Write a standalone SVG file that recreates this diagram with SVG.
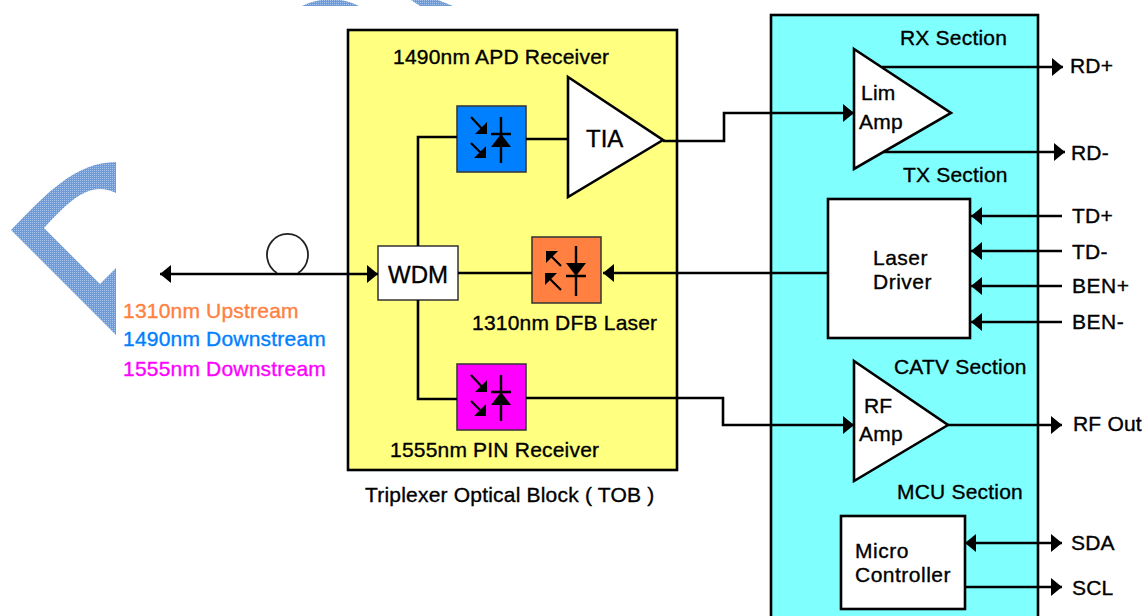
<svg xmlns="http://www.w3.org/2000/svg" width="1144" height="616" viewBox="0 0 1144 616">
<style>
text{font-family:"Liberation Sans",Arial,sans-serif;font-size:21px;letter-spacing:.2px;fill:#000;stroke:#000;stroke-width:.35}
.big{font-size:24px;letter-spacing:0}
.wide{letter-spacing:.5px}
.w{fill:none;stroke:#000;stroke-width:2.6}
.box{stroke:#000;stroke-width:2.6}
.ic{stroke:#333;stroke-width:1.5}
</style>
<defs>
<pattern id="wm" width="2" height="2" patternUnits="userSpaceOnUse"><rect width="2" height="2" fill="#6d9ad9"/><rect width="1" height="1" fill="#a9c4ea"/></pattern>
<marker id="a" markerUnits="userSpaceOnUse" markerWidth="12" markerHeight="18" refX="11" refY="9" orient="auto-start-reverse"><path d="M0 0L11 9L0 18Z" fill="#000"/></marker>
<g id="pd"><path d="M44 11V57M34 28H54" fill="none" stroke="#000" stroke-width="2.400"/><path d="M44 28L54 41H34Z" fill="#000"/><path d="M14 11L27 25M14 37L26 49" stroke="#000" stroke-width="2.200"/><path d="M30 28L30 16L18 28ZM29 52L29 40L17 52Z" fill="#000"/></g>
</defs>
<g id="watermark">
<path d="M11 230C45 195 75 162 116 162V193C90 180 70 200 44 228L100 284L116 268V335Z" fill="url(#wm)"/>
<path d="M302 6C320 -3 342 -3 359 6ZM411 0H438L453 6H420Z" fill="url(#wm)"/>
</g>
<g id="tob"><rect x="348" y="30" width="329" height="440" fill="#ffff80" class="box"/><text x="393" y="64">1490nm APD Receiver</text><text x="472" y="330">1310nm DFB Laser</text><text x="390" y="457">1555nm PIN Receiver</text><text x="365" y="502">Triplexer Optical Block ( TOB )</text></g>
<g id="transceiver"><rect x="771" y="15" width="267" height="610" fill="#80ffff" class="box"/><text x="900" y="45">RX Section</text><text x="903" y="182">TX Section</text><text x="894" y="374">CATV Section</text><text x="897" y="499">MCU Section</text></g>
<g id="wdm"><rect x="378" y="246" width="80" height="54" fill="#fff" stroke="#333" stroke-width="1.500"/><text x="418" y="283" text-anchor="middle" class="big">WDM</text></g>
<g id="apd"><rect x="457" y="106" width="69" height="66" fill="#0080ff" class="ic"/><use href="#pd" x="457" y="106"/></g>
<g id="pin"><rect x="457" y="364" width="69" height="66" fill="#ff00ff" class="ic"/><use href="#pd" x="457" y="364"/></g>
<g id="laser"><rect x="532" y="237" width="69" height="66" fill="#ff8040" class="ic"/>
<path d="M576 246V296M566 276H586" fill="none" stroke="#000" stroke-width="2.400"/><path d="M566 263H586L576 276Z" fill="#000"/><path d="M561 266L550 255M561 290L549 278" stroke="#000" stroke-width="2.200"/><path d="M546 251H558L546 263ZM545 273H557L545 285Z" fill="#000"/></g>
<g id="tia"><path d="M568 77L663 140L568 197Z" fill="#fff" class="box"/><text x="586" y="147" class="big">TIA</text></g>
<g id="lim-amp"><path d="M854 49L951 113L854 169Z" fill="#fff" class="box"/><text x="861" y="100">Lim</text><text x="859" y="129">Amp</text></g>
<g id="laser-driver"><rect x="828" y="199" width="142" height="139" fill="#fff" class="box"/><text x="873" y="265" class="wide">Laser</text><text x="873" y="289" class="wide">Driver</text></g>
<g id="rf-amp"><path d="M854 361L948 425L854 481Z" fill="#fff" class="box"/><text x="864" y="413">RF</text><text x="859" y="441">Amp</text></g>
<g id="mcu"><rect x="841" y="516" width="124" height="93" fill="#fff" class="box"/><text x="855" y="558" class="wide">Micro</text><text x="855" y="582" class="wide">Controller</text></g>
<g id="connectors">
<path d="M277 273A20.500 21 0 1 1 298 273" fill="none" stroke="#222" stroke-width="1.800"/>
<path class="w" d="M160 274H378" marker-start="url(#a)" marker-end="url(#a)"/>
<path class="w" d="M418 246V137H457M526 139H568"/>
<path class="w" d="M663 141H724V113H854" marker-end="url(#a)"/>
<path class="w" d="M458 273H532M418 300V399H457"/>
<path class="w" d="M526 398H723V425H854" marker-end="url(#a)"/>
<path class="w" d="M828 273H603" marker-end="url(#a)"/>
<path class="w" d="M882 67H1063" marker-end="url(#a)"/><path class="w" d="M883 152H1065" marker-end="url(#a)"/>
<path class="w" d="M1062 216H971" marker-end="url(#a)"/><path class="w" d="M1062 251H971" marker-end="url(#a)"/><path class="w" d="M1062 286H971" marker-end="url(#a)"/><path class="w" d="M1062 322H971" marker-end="url(#a)"/>
<path class="w" d="M948 425H1062" marker-end="url(#a)"/>
<path class="w" d="M965 543H1062" marker-start="url(#a)" marker-end="url(#a)"/><path class="w" d="M965 587H1062" marker-end="url(#a)"/>
</g>
<g id="legend"><text x="123" y="318" style="fill:#ff8040;stroke:#ff8040">1310nm Upstream</text><text x="123" y="346" style="fill:#0080ff;stroke:#0080ff">1490nm Downstream</text><text x="123" y="376" style="fill:#ff00ff;stroke:#ff00ff">1555nm Downstream</text></g>
<g id="ports"><text x="1070" y="73">RD+</text><text x="1071" y="160">RD-</text><text x="1072" y="223">TD+</text><text x="1072" y="259">TD-</text><text x="1072" y="293" class="wide">BEN+</text><text x="1072" y="329" class="wide">BEN-</text><text x="1073" y="431">RF Out</text><text x="1071" y="550">SDA</text><text x="1072" y="595">SCL</text></g>
</svg>
